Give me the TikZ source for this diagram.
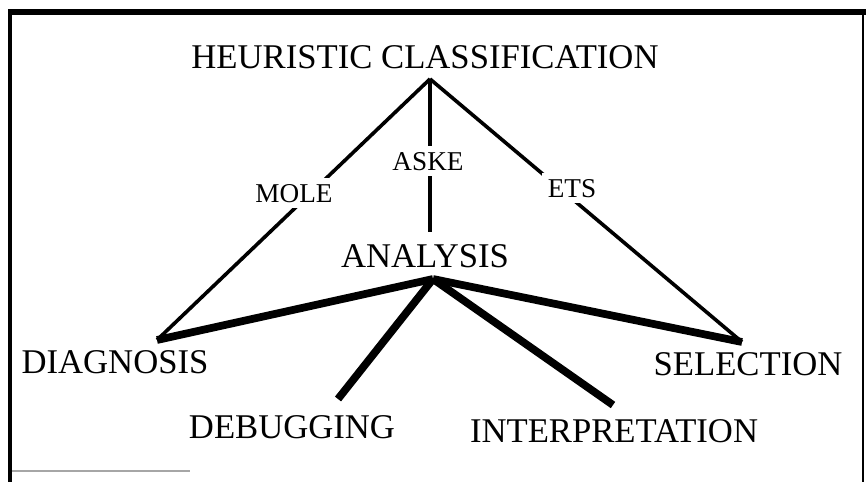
\documentclass[tikz,border=0pt]{standalone}
\usepackage{fontspec}
\setmainfont{Liberation Serif}
\begin{document}
\begin{tikzpicture}[x=0.75pt,y=-0.75pt,
  bigterm/.style={font=\fontsize{26}{30}\selectfont, inner sep=0pt, anchor=base},
  toolname/.style={font=\fontsize{20.4}{24}\selectfont, fill=white, inner sep=4.5pt, anchor=base},
  thinline/.style={line width=2.7pt},
  heavyline/.style={line width=5.8pt},
  frameline/.style={line width=3.8pt}]
\useasboundingbox (0,0) rectangle (866,482);

% frame
\draw[frameline] (8,12) -- (866,12);
\draw[line width=3pt] (10,10) -- (10,482);
\draw[line width=1.5pt] (863,12) -- (863,482);
\draw[gray!70, line width=1pt] (12,471) -- (190,471);

% task names
\node[bigterm] (heur) at (425,68) {HEURISTIC CLASSIFICATION};
\node[bigterm] (anal) at (425,267) {ANALYSIS};
\node[bigterm] (diag) at (115,373) {DIAGNOSIS};
\node[bigterm] (sel) at (748,375) {SELECTION};
\node[bigterm] (debug) at (292,438) {DEBUGGING};
\node[bigterm] (interp) at (614,442) {INTERPRETATION};

% junction points
\coordinate (hc) at (430,79);
\coordinate (an) at (433,279);
\coordinate (anTop) at (430,232);
\coordinate (dg) at (157,340);
\coordinate (se) at (742,342);
\coordinate (db) at (338,399);
\coordinate (ip) at (613,405);

% links from heuristic classification
\draw[thinline] (hc) -- (dg);
\draw[thinline] (hc) -- (se);
\draw[thinline] (hc) -- (anTop);

% links from analysis
\draw[heavyline] (an) -- (dg);
\draw[heavyline] (an) -- (se);
\draw[heavyline] (an) -- (db);
\draw[heavyline] (an) -- (ip);

% tool labels on the links
\node[toolname] (mole) at (294,202) {MOLE};
\node[toolname] (aske) at (428,170) {ASKE};
\node[toolname] (ets) at (572,197) {ETS};
\end{tikzpicture}
\end{document}
